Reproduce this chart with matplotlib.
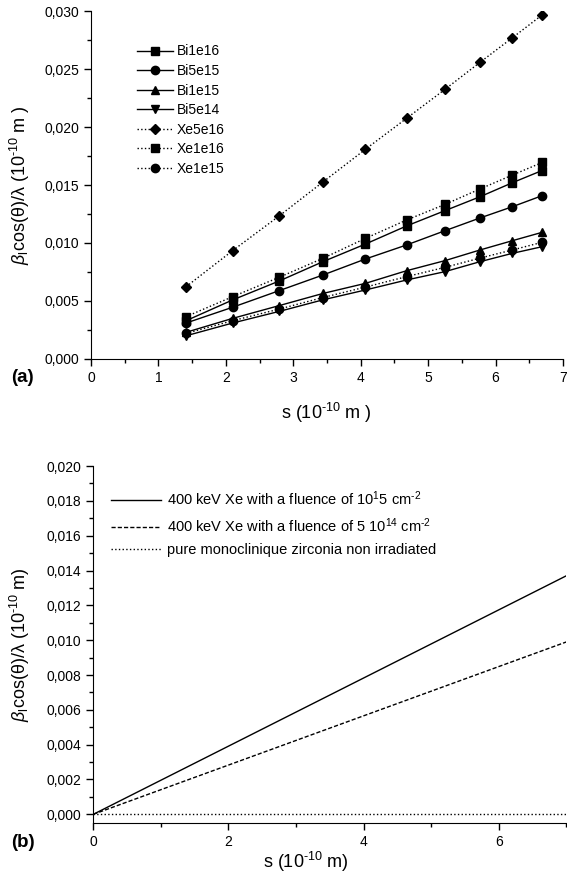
import matplotlib
matplotlib.use("Agg")
import matplotlib.pyplot as plt
from matplotlib.ticker import MultipleLocator, FuncFormatter

plt.rcParams['font.family'] = ['Liberation Sans', 'DejaVu Sans']
plt.rcParams['mathtext.fontset'] = 'custom'
plt.rcParams['mathtext.rm'] = 'Liberation Sans'
plt.rcParams['mathtext.it'] = 'Liberation Sans:italic'
plt.rcParams['font.size'] = 10

# (a) Williamson-Hall points
s = [1.41, 2.10, 2.79, 3.44, 4.07, 4.68, 5.25, 5.77, 6.25, 6.69]
bi1e16 = [0.00330, 0.00509, 0.00672, 0.00839, 0.00991, 0.01147, 0.01279, 0.01399, 0.01520, 0.01625]
bi5e15 = [0.00310, 0.00446, 0.00589, 0.00724, 0.00862, 0.00983, 0.01106, 0.01216, 0.01313, 0.01408]
bi1e15 = [0.00230, 0.00350, 0.00460, 0.00565, 0.00652, 0.00761, 0.00848, 0.00940, 0.01020, 0.01092]
bi5e14 = [0.00200, 0.00310, 0.00410, 0.00510, 0.00595, 0.00681, 0.00753, 0.00839, 0.00911, 0.00968]
xe5e16 = [0.00623, 0.00934, 0.01233, 0.01526, 0.01808, 0.02075, 0.02325, 0.02558, 0.02770, 0.02966]
xe1e16 = [0.00365, 0.00537, 0.00704, 0.00868, 0.01040, 0.01198, 0.01333, 0.01466, 0.01586, 0.01694]
xe1e15 = [0.00220, 0.00330, 0.00430, 0.00530, 0.00620, 0.00710, 0.00790, 0.00870, 0.00940, 0.01006]

# (b) fitted lines
s_fit = [0, 7]
fit_1e15 = [0, 0.0137]
fit_5e14 = [0, 0.0099]
fit_pure = [0, 0]

comma = FuncFormatter(lambda v, p: ("%.3f" % v).replace(".", ","))
exp10 = r'10$^{\mathrm{‐10}}$'  # hyphen, as in the original

fig = plt.figure(figsize=(5.67, 8.89), dpi=100)

def style(ax):
    for sp in ['top', 'right']:
        ax.spines[sp].set_visible(False)
    ax.tick_params(which='major', direction='out', length=5, width=1)
    ax.tick_params(which='minor', direction='out', length=3, width=1)
    ax.yaxis.set_major_formatter(comma)

ax1 = fig.add_axes([0.1605, 0.5962, 0.8325, 0.3914])
style(ax1)
ms = 6
ax1.plot(s, bi1e16, 'k-', marker='s', ms=ms, lw=1, label='Bi1e16')
ax1.plot(s, bi5e15, 'k-', marker='o', ms=ms, lw=1, label='Bi5e15')
ax1.plot(s, bi1e15, 'k-', marker='^', ms=ms, lw=1, label='Bi1e15')
ax1.plot(s, bi5e14, 'k-', marker='v', ms=ms, lw=1, label='Bi5e14')
ax1.plot(s, xe5e16, 'k:', marker='D', ms=5, lw=1, label='Xe5e16')
ax1.plot(s, xe1e16, 'k:', marker='s', ms=ms, lw=1, label='Xe1e16')
ax1.plot(s, xe1e15, 'k:', marker='o', ms=ms, lw=1, label='Xe1e15')
ax1.set_xlim(0, 7)
ax1.set_ylim(0, 0.030)
ax1.xaxis.set_major_locator(MultipleLocator(1))
ax1.xaxis.set_minor_locator(MultipleLocator(0.5))
ax1.yaxis.set_major_locator(MultipleLocator(0.005))
ax1.yaxis.set_minor_locator(MultipleLocator(0.0025))
ax1.legend(loc='upper left', bbox_to_anchor=(0.07, 0.94), frameon=False,
           handlelength=2.6, labelspacing=0.4, handletextpad=0.3,
           fontsize=10)

fig.text(0.035, 0.792, r'$\beta_\mathrm{l}$cos(θ)/λ (' + exp10 + ' m )', rotation=90,
         ha='center', va='center', fontsize=13)
fig.text(0.575, 0.536, 's (' + exp10 + ' m )', ha='center', va='center', fontsize=13)
fig.text(0.04, 0.575, '(a)', ha='center', va='center', fontsize=13.5, fontweight='bold')

ax2 = fig.add_axes([0.1645, 0.0742, 0.8345, 0.4016])
style(ax2)
ax2.plot(s_fit, fit_1e15, 'k-', lw=1,
         label=r'400 keV Xe with a fluence of 10$^{1}$5 cm$^{\mathrm{‐2}}$')
ax2.plot(s_fit, fit_5e14, 'k--', lw=1, dashes=(3, 1.5),
         label=r'400 keV Xe with a fluence of 5 10$^{14}$ cm$^{\mathrm{‐2}}$')
ax2.plot(s_fit, fit_pure, 'k:', lw=1,
         label='pure monoclinique zirconia non irradiated')
ax2.set_xlim(0, 7)
ax2.set_ylim(-0.0005, 0.020)
ax2.xaxis.set_major_locator(MultipleLocator(2))
ax2.xaxis.set_minor_locator(MultipleLocator(1))
ax2.yaxis.set_major_locator(MultipleLocator(0.002))
ax2.yaxis.set_minor_locator(MultipleLocator(0.001))
ax2.legend(loc='upper left', bbox_to_anchor=(0.01, 0.97), frameon=False,
           handlelength=3.4, labelspacing=0.55, handletextpad=0.4,
           fontsize=10.5)

fig.text(0.035, 0.275, r'$\beta_\mathrm{l}$cos(θ)/λ (' + exp10 + ' m)', rotation=90,
         ha='center', va='center', fontsize=13)
fig.text(0.54, 0.03, 's (' + exp10 + ' m)', ha='center', va='center', fontsize=13)
fig.text(0.04, 0.052, '(b)', ha='center', va='center', fontsize=13.5, fontweight='bold')

fig.savefig('out.png', dpi=100)
